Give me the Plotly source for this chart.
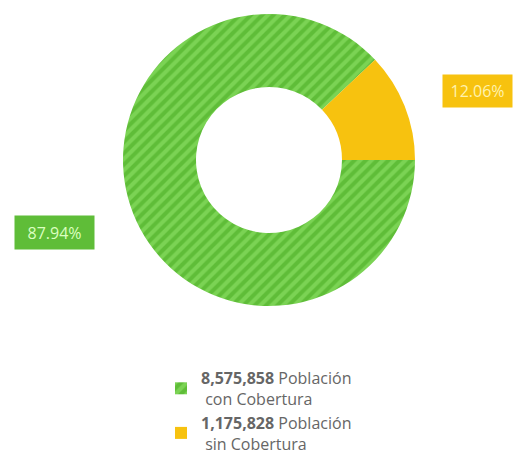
import plotly.graph_objects as go

# Coverage data
categories = ["Población<br> con Cobertura", "Población<br> sin Cobertura"]
values = [8575858, 1175828]
percent_labels = ["87.94%", "12.06%"]

green = "#5fbd38"
green_stripe = "#98ea70"
yellow = "#f7c20f"

legend_labels = [f"<b>{v:,}</b> {c}" for v, c in zip(values, categories)]

W, H = 518, 452
cx, cy, r = 269, 160, 146

fig = go.Figure()
fig.add_trace(go.Pie(
    labels=legend_labels,
    values=values,
    hole=0.5,
    sort=False,
    direction="clockwise",
    rotation=90,
    textinfo="none",
    hoverinfo="label+percent",
    marker=dict(
        colors=[green, yellow],
        line=dict(width=0),
        pattern=dict(shape=["/", ""], fgcolor=green_stripe, bgcolor=green,
                     size=8, solidity=0.5, fillmode="overlay"),
    ),
    domain=dict(x=[(cx - r) / W, (cx + r) / W],
                y=[1 - (cy + r) / H, 1 - (cy - r) / H]),
))

# Boxed percentage labels
fig.add_annotation(x=54.5 / W, y=1 - 232 / H, xref="paper", yref="paper",
                   xanchor="center", yanchor="middle",
                   text=percent_labels[0], showarrow=False,
                   width=71, height=25, borderpad=4,
                   font=dict(family="Open Sans", size=16, color="#dcffc0"),
                   bgcolor=green)
fig.add_annotation(x=477.5 / W, y=1 - 91 / H, xref="paper", yref="paper",
                   xanchor="center", yanchor="middle",
                   text=percent_labels[1], showarrow=False,
                   width=61, height=24, borderpad=4,
                   font=dict(family="Open Sans", size=16, color="#fff2b0"),
                   bgcolor=yellow)

fig.update_layout(
    width=W, height=H,
    margin=dict(l=0, r=0, t=0, b=0, autoexpand=False),
    paper_bgcolor="white",
    plot_bgcolor="white",
    font=dict(family="Open Sans", size=12, color="#666666"),
    legend=dict(x=161 / W, xanchor="left", xref="container",
                y=1 - 361 / H, yanchor="top", yref="container",
                orientation="v",
                font=dict(family="Open Sans", size=16, color="#666666")),
    showlegend=True,
)

fig.write_html("out.html")
